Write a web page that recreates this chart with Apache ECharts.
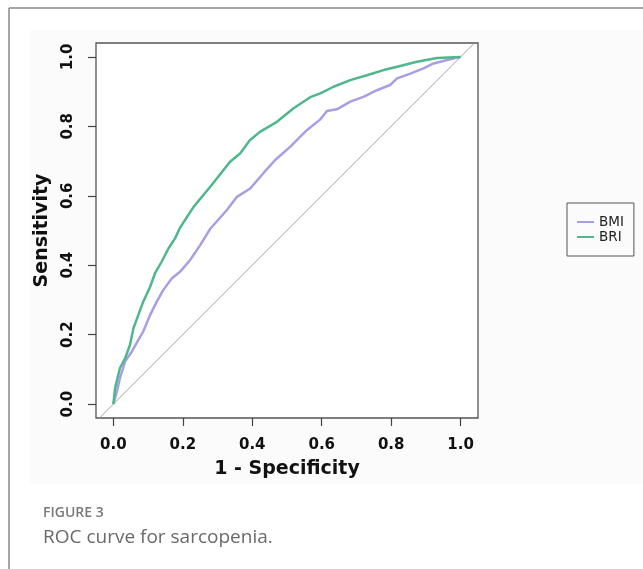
<!DOCTYPE html>
<html>
<head>
<meta charset="utf-8">
<script src="https://cdn.jsdelivr.net/npm/echarts@6/dist/echarts.min.js"></script>
<style>
html,body{margin:0;padding:0;background:#fff;}
#main{width:643px;height:569px;}
</style>
</head>
<body>
<div id="main"></div>
<script>
// tick labels
var xTicks = [0, 0.2, 0.4, 0.6, 0.8, 1.0];
var yTicks = [0, 0.2, 0.4, 0.6, 0.8, 1.0];

// BMI roc (1 - specificity, sensitivity)
var bmiFpr = [0, 0.010, 0.019, 0.034, 0.053, 0.072, 0.086, 0.106, 0.125, 0.144, 0.168, 0.192, 0.221, 0.250, 0.279, 0.327, 0.356, 0.394, 0.432, 0.466, 0.509, 0.557, 0.596, 0.615, 0.644, 0.682, 0.720, 0.759, 0.797, 0.817, 0.855, 0.893, 0.922, 0.961, 1];
var bmiSens = [0, 0.036, 0.075, 0.123, 0.151, 0.185, 0.209, 0.257, 0.295, 0.329, 0.362, 0.381, 0.415, 0.458, 0.505, 0.559, 0.597, 0.621, 0.665, 0.703, 0.741, 0.789, 0.820, 0.844, 0.849, 0.871, 0.885, 0.904, 0.919, 0.938, 0.952, 0.967, 0.981, 0.991, 1];

// BRI roc
var briFpr = [0, 0.005, 0.019, 0.034, 0.048, 0.058, 0.072, 0.086, 0.106, 0.120, 0.139, 0.159, 0.178, 0.192, 0.231, 0.279, 0.336, 0.365, 0.393, 0.422, 0.471, 0.519, 0.567, 0.596, 0.634, 0.682, 0.730, 0.778, 0.826, 0.874, 0.932, 1];
var briSens = [0, 0.046, 0.104, 0.132, 0.171, 0.219, 0.257, 0.295, 0.338, 0.377, 0.410, 0.449, 0.478, 0.508, 0.568, 0.626, 0.698, 0.722, 0.760, 0.784, 0.813, 0.852, 0.884, 0.895, 0.914, 0.933, 0.947, 0.962, 0.974, 0.986, 0.997, 1];

// reference diagonal, corner to corner of the box
var chanceLine = [-0.04, 1.04];

function pairs(a, b) {
	var res = [];
	for (var i = 0; i < a.length; i++) {
		res.push([a[i], b[i]]);
	}
	return res;
}

var boldFont = "DejaVu Sans";
var myChart = echarts.init(document.getElementById("main"));

myChart.setOption({
	animation: false,
	backgroundColor: "#fff",
	grid: {
		left: 96,
		top: 43,
		width: 382,
		height: 375,
		show: true,
		borderColor: "#555",
		borderWidth: 1.3,
		backgroundColor: "#fff"
	},
	legend: {
		orient: "vertical",
		left: 567,
		top: 203,
		data: ["BMI", "BRI"],
		icon: "rect",
		borderColor: "#555",
		borderWidth: 1,
		borderRadius: 0,
		padding: [12, 10, 12, 10],
		itemWidth: 17,
		itemHeight: 2,
		itemGap: 1,
		textStyle: {
			fontFamily: "DejaVu Sans",
			fontSize: 13.5,
			lineHeight: 13,
			color: "#222"
		}
	},
	xAxis: {
		type: "value",
		min: -0.05,
		max: 1.05,
		name: "1 - Specificity",
		nameLocation: "middle",
		nameGap: 42,
		nameTextStyle: {
			fontFamily: boldFont,
			fontWeight: "bold",
			fontSize: 19,
			color: "#111"
		},
		axisLine: { show: false, onZero: false },
		splitLine: { show: false },
		axisTick: {
			show: true,
			customValues: xTicks,
			length: 8,
			lineStyle: { color: "#444", width: 1.2 }
		},
		axisLabel: {
			customValues: xTicks,
			margin: 20,
			fontFamily: boldFont,
			fontWeight: "bold",
			fontSize: 15,
			color: "#111",
			formatter: function (v) { return v.toFixed(1); }
		}
	},
	yAxis: {
		type: "value",
		min: -0.04,
		max: 1.04,
		name: "Sensitivity",
		nameLocation: "middle",
		nameGap: 44,
		nameTextStyle: {
			fontFamily: boldFont,
			fontWeight: "bold",
			fontSize: 19,
			color: "#111"
		},
		axisLine: { show: false, onZero: false },
		splitLine: { show: false },
		axisTick: {
			show: true,
			customValues: yTicks,
			length: 8,
			lineStyle: { color: "#444", width: 1.2 }
		},
		axisLabel: {
			customValues: yTicks,
			rotate: 90,
			margin: 20,
			fontFamily: boldFont,
			fontWeight: "bold",
			fontSize: 15,
			color: "#111",
			formatter: function (v) { return v.toFixed(1); }
		}
	},
	graphic: [
		// light backdrop of the figure image
		{ type: "rect", z: -100, shape: { x: 30, y: 30, width: 613, height: 454 }, style: { fill: "#fbfbfb" } },
		// page frame
		{ type: "line", shape: { x1: 9, y1: 8, x2: 643, y2: 8 }, style: { stroke: "#888", lineWidth: 1.5 } },
		{ type: "line", shape: { x1: 9, y1: 8, x2: 9, y2: 569 }, style: { stroke: "#888", lineWidth: 1.5 } },
		// caption
		{ type: "text", left: 43, top: 506, style: { text: "FIGURE 3", font: "600 14px 'Open Sans'", fill: "#7a7a7a" } },
		{ type: "text", left: 43, top: 528, style: { text: "ROC curve for sarcopenia.", font: "19px 'Open Sans'", fill: "#6a6a6a" } }
	],
	series: [
		{
			name: "chance",
			type: "line",
			silent: true,
			symbol: "none",
			data: pairs(chanceLine, chanceLine),
			lineStyle: { color: "#a0a0a0", width: 1 }
		},
		{
			name: "BMI",
			type: "line",
			symbol: "none",
			data: pairs(bmiFpr, bmiSens),
			itemStyle: { color: "#a99ee3" },
			lineStyle: { color: "#a99ee3", width: 2.5 }
		},
		{
			name: "BRI",
			type: "line",
			symbol: "none",
			data: pairs(briFpr, briSens),
			itemStyle: { color: "#4fb78b" },
			lineStyle: { color: "#4fb78b", width: 2.5 }
		}
	]
});
</script>
</body>
</html>
